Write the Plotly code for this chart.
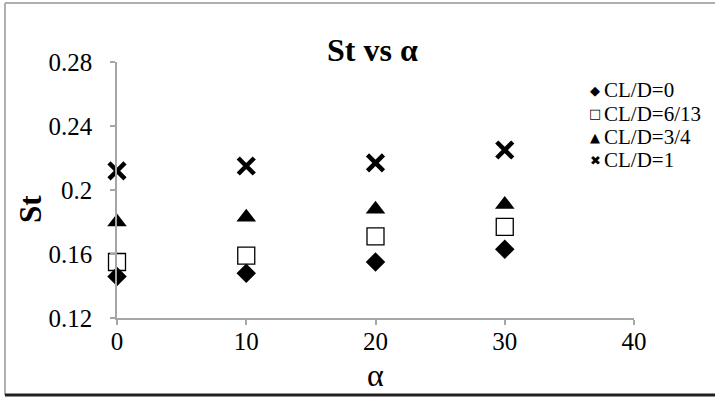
import plotly.graph_objects as go

alpha = [0, 10, 20, 30]
st_cl0 = [0.146, 0.148, 0.155, 0.163]
st_cl613 = [0.155, 0.159, 0.171, 0.177]
st_cl34 = [0.180, 0.183, 0.188, 0.191]
st_cl1 = [0.212, 0.215, 0.217, 0.225]
names = ["CL/D=0", "CL/D=6/13", "CL/D=3/4", "CL/D=1"]
legend_glyphs = ["◆", "□", "▲", "✖"]
x_ticks = [0, 10, 20, 30, 40]
y_ticks = [0.12, 0.16, 0.2, 0.24, 0.28]
y_ticktext = ["0.12", "0.16", "0.2", "0.24", "0.28"]

W, H = 715, 397
L, R, T, B = 117, 81, 62, 79
PW, PH = W - L - R, H - T - B

def px(xp):
    return (xp - L) / PW

def py(yp):
    return (H - B - yp) / PH

SERIF = "Times New Roman, Liberation Serif, DejaVu Serif, serif"

fig = go.Figure()
fig.add_trace(go.Scatter(x=alpha, y=st_cl0, mode="markers", name=names[0],
                         marker=dict(symbol="diamond", size=15, color="black")))
fig.add_trace(go.Scatter(x=alpha, y=st_cl613, mode="markers", name=names[1],
                         marker=dict(symbol="square-open", size=17, color="black",
                                     line=dict(color="black", width=1.3))))
fig.add_trace(go.Scatter(x=alpha, y=st_cl34, mode="markers", name=names[2],
                         marker=dict(symbol="triangle-up", size=17, color="black")))
fig.add_trace(go.Scatter(x=alpha, y=st_cl1, mode="markers", name=names[3],
                         marker=dict(symbol="x-thin", size=16, color="black",
                                     line=dict(color="black", width=4.5))))
fig.update_traces(cliponaxis=False, showlegend=False)

axis_col = "#a6a6a6"
fig.update_xaxes(range=[0, 40], tickvals=x_ticks, showgrid=False, zeroline=False,
                 showline=True, linecolor=axis_col, linewidth=1.5,
                 ticks="outside", ticklen=5, tickcolor=axis_col, tickwidth=1.5,
                 tickfont=dict(family=SERIF, size=25, color="black"),
                 ticklabelstandoff=-5)
fig.update_yaxes(range=[0.12, 0.28], tickvals=y_ticks, ticktext=y_ticktext,
                 showgrid=False, zeroline=False,
                 showline=True, linecolor=axis_col, linewidth=1.5,
                 ticks="outside", ticklen=5, tickcolor=axis_col, tickwidth=1.5,
                 tickfont=dict(family=SERIF, size=25, color="black"),
                 ticklabelstandoff=13)

shapes = [
    dict(type="line", xref="paper", yref="paper", x0=px(5), x1=px(5), y0=py(3), y1=py(395),
         line=dict(color="#b0b0b0", width=2)),
    dict(type="line", xref="paper", yref="paper", x0=px(5), x1=px(716), y0=py(3), y1=py(3),
         line=dict(color="#b0b0b0", width=2)),
    dict(type="line", xref="paper", yref="paper", x0=px(5), x1=px(716), y0=py(395), y1=py(395),
         line=dict(color="#202020", width=3)),
]

annotations = [
    dict(text="<b>St vs α</b>", xref="paper", yref="paper", x=px(372), y=py(50),
         showarrow=False, font=dict(family=SERIF, size=32, color="black"),
         xanchor="center", yanchor="middle"),
    dict(text="<b>St</b>", xref="paper", yref="paper", x=px(30), y=py(209),
         showarrow=False, textangle=-90, font=dict(family=SERIF, size=31, color="black"),
         xanchor="center", yanchor="middle"),
    dict(text="α", xref="paper", yref="paper", x=px(375), y=py(375),
         showarrow=False, font=dict(family=SERIF, size=32, color="black"),
         xanchor="center", yanchor="middle"),
]

legend_rows = [90, 113.5, 137, 160]
for name, glyph, yr in zip(names, legend_glyphs, legend_rows):
    annotations.append(dict(text=glyph, xref="paper", yref="paper", x=px(595), y=py(yr),
                            showarrow=False, font=dict(family="DejaVu Sans", size=13, color="black"),
                            xanchor="center", yanchor="middle"))
    annotations.append(dict(text=name, xref="paper", yref="paper", x=px(602), y=py(yr),
                            showarrow=False, font=dict(family=SERIF, size=21, color="black"),
                            xanchor="left", yanchor="middle"))

fig.update_layout(
    width=W, height=H,
    margin=dict(l=L, r=R, t=T, b=B),
    paper_bgcolor="white", plot_bgcolor="white",
    shapes=shapes, annotations=annotations,
    showlegend=False,
)

fig.write_html("out.html")
